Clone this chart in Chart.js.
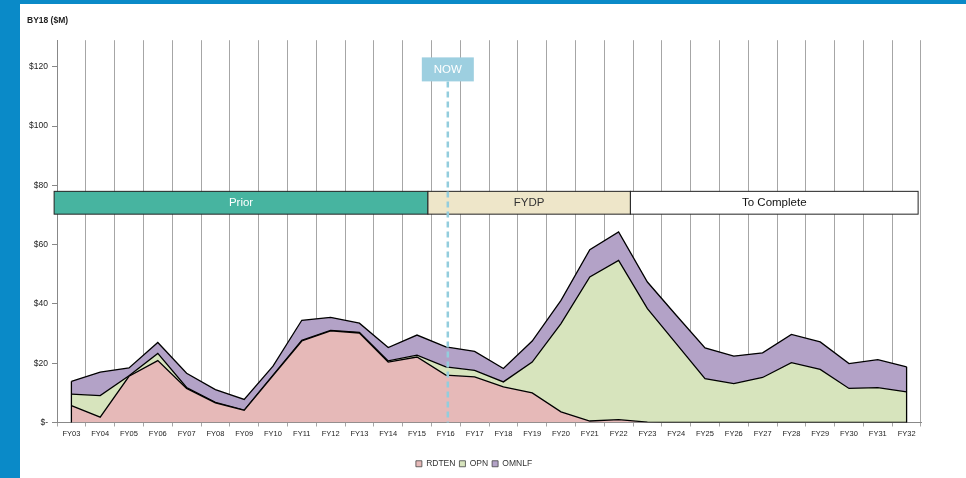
<!DOCTYPE html>
<html>
<head>
<meta charset="utf-8">
<script src="https://cdn.jsdelivr.net/npm/chart.js@4.4.1/dist/chart.umd.min.js"></script>
<style>
    html, body { margin: 0; padding: 0; background: #fff; }
    body { width: 966px; height: 478px; overflow: hidden; position: relative; }
    .frame { position: absolute; left: 0; top: 0; width: 966px; height: 478px; box-sizing: border-box;
             border-left: 20px solid #0A8AC8; border-top: 4px solid #0A8AC8; }
    #wrap { position: absolute; left: 20px; top: 4px; width: 946px; height: 474px; }
</style>
</head>
<body>
<div class="frame"></div>
<div id="wrap"><canvas id="chart" width="946" height="474"></canvas></div>
<script>
// fiscal years on the x axis
const years = ["FY03", "FY04", "FY05", "FY06", "FY07", "FY08", "FY09", "FY10", "FY11", "FY12",
    "FY13", "FY14", "FY15", "FY16", "FY17", "FY18", "FY19", "FY20", "FY21", "FY22",
    "FY23", "FY24", "FY25", "FY26", "FY27", "FY28", "FY29", "FY30", "FY31", "FY32"];

// BY18 $M, stacked
const rdten = [5.7, 1.8, 15.6, 20.9, 11.5, 6.6, 4.1, 15.8, 27.5, 30.9,
    30.2, 20.4, 22.1, 16.0, 15.4, 12.0, 10.0, 3.6, 0.5, 1.0,
    0.1, 0, 0, 0, 0, 0, 0, 0, 0, 0];
const opn = [3.9, 7.3, 0.2, 2.4, 0.3, 0.2, 0.1, 0.2, 0.2, 0.2,
    0.2, 0.4, 0.6, 2.8, 2.2, 1.7, 10.4, 29.8, 48.6, 53.7,
    38.3, 26.6, 14.8, 13.1, 15.2, 20.2, 17.9, 11.5, 11.8, 10.3];
const omnlf = [4.3, 7.9, 2.6, 3.7, 4.8, 4.3, 3.6, 3.0, 6.8, 4.4,
    3.1, 4.5, 6.8, 6.7, 6.4, 4.5, 7.1, 7.8, 9.2, 9.6,
    9.0, 9.6, 10.4, 9.3, 8.3, 9.5, 9.3, 8.4, 9.4, 8.5];

// phase bands (category index units) and the NOW marker
const bandNames = ["Prior", "FYDP", "To Complete"];
const bandStart = [-0.6, 12.38, 19.41];
const bandEnd = [12.38, 19.41, 29.4];
const bandLow = 70.3, bandHigh = 78.0;
const nowIndex = 13.07;
const nowLow = 115.1, nowHigh = 123.2;

const bandFill = ["#47B4A0", "#EEE6C9", "#FFFFFF"];
const bandText = ["#FFFFFF", "#333333", "#111111"];

const overlays = {
    id: "overlays",
    afterDatasetsDraw(chart) {
        const ctx = chart.ctx;
        const xs = chart.scales.x, ys = chart.scales.y;
        const x0 = xs.getPixelForValue(0);
        const step = xs.getPixelForValue(1) - x0;
        const px = i => x0 + i * step;

        ctx.save();

        // outer edges of the stacked area
        const last = years.length - 1;
        ctx.strokeStyle = "#000";
        ctx.lineWidth = 1.3;
        [0, last].forEach(i => {
            const total = rdten[i] + opn[i] + omnlf[i];
            ctx.beginPath();
            ctx.moveTo(px(i), ys.getPixelForValue(0));
            ctx.lineTo(px(i), ys.getPixelForValue(total));
            ctx.stroke();
        });

        // phase bands
        const yt = ys.getPixelForValue(bandHigh), yb = ys.getPixelForValue(bandLow);
        ctx.font = "11.5px 'Liberation Sans', Arial, sans-serif";
        ctx.textAlign = "center";
        ctx.textBaseline = "middle";
        bandNames.forEach((name, k) => {
            const a = px(bandStart[k]), b = px(bandEnd[k]);
            ctx.fillStyle = bandFill[k];
            ctx.fillRect(a, yt, b - a, yb - yt);
            ctx.strokeStyle = "#222";
            ctx.lineWidth = 1;
            ctx.strokeRect(a, yt, b - a, yb - yt);
            ctx.fillStyle = bandText[k];
            ctx.fillText(name, (a + b) / 2, (yt + yb) / 2 + 0.5);
        });

        // NOW marker
        const nx = px(nowIndex);
        const nt = ys.getPixelForValue(nowHigh), nb = ys.getPixelForValue(nowLow);
        ctx.strokeStyle = "#93CDDD";
        ctx.lineWidth = 2.5;
        ctx.setLineDash([6, 4]);
        ctx.beginPath();
        ctx.moveTo(nx, nb);
        ctx.lineTo(nx, ys.getPixelForValue(0));
        ctx.stroke();
        ctx.setLineDash([]);
        ctx.fillStyle = "#9DCFE0";
        ctx.fillRect(nx - 26, nt, 52, nb - nt);
        ctx.fillStyle = "#FFFFFF";
        ctx.fillText("NOW", nx, (nt + nb) / 2 + 0.5);

        ctx.restore();
    }
};

const series = (label, data, color, fill) => ({
    label: label,
    data: data,
    backgroundColor: color,
    borderColor: "#000",
    borderWidth: 1.3,
    fill: fill,
    pointRadius: 0,
    tension: 0
});

new Chart(document.getElementById("chart"), {
    type: "line",
    data: {
        labels: years,
        datasets: [
            series("RDTEN", rdten, "#E6B9B8", "origin"),
            series("OPN", opn, "#D7E4BD", "-1"),
            series("OMNLF", omnlf, "#B3A2C7", "-1")
        ]
    },
    options: {
        responsive: false,
        animation: false,
        devicePixelRatio: 1,
        layout: { padding: { left: 7, right: 45, top: 8, bottom: 0 } },
        plugins: {
            title: {
                display: true,
                text: "BY18 ($M)",
                align: "start",
                color: "#222",
                font: { family: "'Liberation Sans', Arial, sans-serif", size: 8.5, weight: "bold" },
                padding: { top: 4, bottom: 14 }
            },
            legend: {
                position: "bottom",
                labels: {
                    boxWidth: 6,
                    boxHeight: 6,
                    padding: 4,
                    color: "#333",
                    font: { family: "'Liberation Sans', Arial, sans-serif", size: 8.5 },
                    generateLabels: chart => Chart.defaults.plugins.legend.labels.generateLabels(chart)
                        .map(item => Object.assign(item, { lineWidth: 0.8, strokeStyle: "#444" }))
                }
            },
            tooltip: { enabled: false }
        },
        scales: {
            x: {
                offset: true,
                grid: { offset: true, color: "#A6A6A6", lineWidth: 1, tickLength: 4 },
                border: { color: "#888" },
                ticks: {
                    autoSkip: false,
                    maxRotation: 0,
                    padding: 3,
                    color: "#222",
                    font: { family: "'Liberation Sans', Arial, sans-serif", size: 7.5 }
                },
                afterFit: s => { s.height = 33; }
            },
            y: {
                stacked: true,
                min: 0,
                max: 129,
                grid: { drawOnChartArea: false, tickLength: 5, color: "#888" },
                border: { color: "#888" },
                ticks: {
                    stepSize: 20,
                    padding: 4,
                    color: "#222",
                    font: { family: "'Liberation Sans', Arial, sans-serif", size: 8.5 },
                    callback: v => v === 0 ? "$-" : "$" + v
                },
                afterBuildTicks: s => { s.ticks = s.ticks.filter(t => t.value % 20 === 0); },
                afterFit: s => { s.width = 30; }
            }
        }
    },
    plugins: [overlays]
});
</script>
</body>
</html>
